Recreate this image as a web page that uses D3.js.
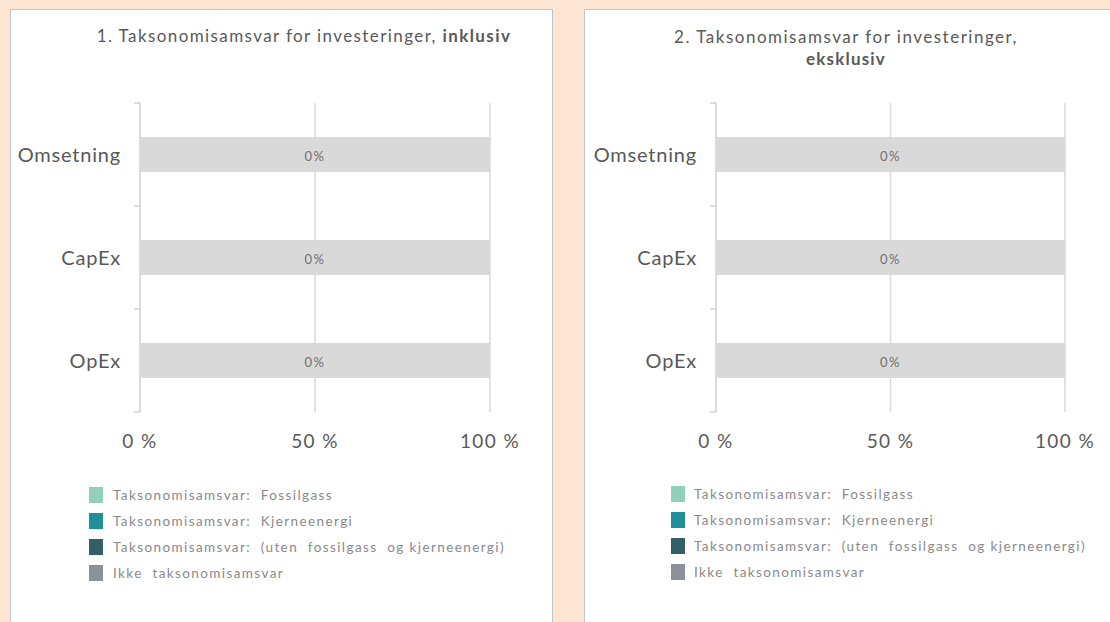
<!DOCTYPE html>
<html>
<head>
<meta charset="utf-8">
<script src="https://cdn.jsdelivr.net/npm/d3@7"></script>
<style>
  body { margin: 0; background: #fde5d3; }
  svg { display: block; font-family: Lato, "Open Sans", sans-serif; }
</style>
</head>
<body>
<svg id="chart" width="1110" height="622"></svg>
<script>
// data
const categories = ["Omsetning", "CapEx", "OpEx"];
const seriesKeys = ["fossilgass", "kjerneenergi", "uten", "ikke", "rest"];
const legendLabels = [
  "Taksonomisamsvar:  Fossilgass",
  "Taksonomisamsvar:  Kjerneenergi",
  "Taksonomisamsvar:  (uten  fossilgass  og kjerneenergi)",
  "Ikke  taksonomisamsvar"
];
// panel 1 (inklusiv) and panel 2 (eksklusiv) share the same numbers
const fossilgass = [0, 0, 0];
const kjerneenergi = [0, 0, 0];
const uten = [0, 0, 0];
const ikke = [0, 0, 0];
const rest = [100, 100, 100];   // grey filler bar, not in legend
const xTicks = [0, 50, 100];
const titleMain = ["1. Taksonomisamsvar for investeringer, ", "2. Taksonomisamsvar for investeringer,"];
const titleBold = ["inklusiv", "eksklusiv"];

const colors = {
  fossilgass: "#8fd1b9",
  kjerneenergi: "#1f909a",
  uten: "#335f66",
  ikke: "#8c9199",
  rest: "#d9d9d9"
};

const rows = categories.map(function(c, i) {
  return {cat: c, fossilgass: fossilgass[i], kjerneenergi: kjerneenergi[i],
          uten: uten[i], ikke: ikke[i], rest: rest[i]};
});

const svg = d3.select("#chart");

// layout of the two panels
const panels = [
  {left: 10, x0: 140, x1: 490, titleX: 304, twoLines: false, legX: 89, legY: 487, legGap: 10},
  {left: 584, x0: 716, x1: 1065, titleX: 846, twoLines: true, legX: 671, legY: 486, legGap: 9}
];

const stacked = d3.stack().keys(seriesKeys)(rows);

panels.forEach(function(p, pi) {
  const g = svg.append("g");

  // white card
  g.append("rect")
    .attr("x", p.left + 0.5).attr("y", 9.5)
    .attr("width", 542).attr("height", 650)
    .attr("fill", "#fff")
    .attr("stroke", "#c4c4c4");

  // title
  if (!p.twoLines) {
    const t = g.append("text")
      .attr("x", p.titleX).attr("y", 42)
      .attr("text-anchor", "middle")
      .style("font-size", "17px")
      .style("letter-spacing", "1.4px")
      .attr("fill", "#595959");
    t.append("tspan").text(titleMain[pi]);
    t.append("tspan").style("font-weight", "bold").text(titleBold[pi]);
  } else {
    g.append("text")
      .attr("x", p.titleX).attr("y", 43)
      .attr("text-anchor", "middle")
      .style("font-size", "17px")
      .style("letter-spacing", "1.5px")
      .attr("fill", "#595959")
      .text(titleMain[pi]);
    g.append("text")
      .attr("x", p.titleX).attr("y", 65)
      .attr("text-anchor", "middle")
      .style("font-size", "17px")
      .style("letter-spacing", "1.2px")
      .style("font-weight", "bold")
      .attr("fill", "#595959")
      .text(titleBold[pi]);
  }

  let x = d3.scaleLinear().domain([0, 100]).range([p.x0, p.x1]);
  let y = d3.scaleBand().domain(categories).range([103, 412]).padding(0);
  const barH = y.bandwidth() * 0.34;

  // vertical grid lines
  g.selectAll("line.grid").data(xTicks.slice(1)).enter()
    .append("line")
    .attr("class", "grid")
    .attr("x1", function(d) { return x(d); })
    .attr("x2", function(d) { return x(d); })
    .attr("y1", 103).attr("y2", 412)
    .attr("stroke", "#d9d9d9")
    .attr("stroke-width", 1.5);

  // category axis on the left
  const yAxis = g.append("g")
    .attr("transform", "translate(" + p.x0 + ",0)");
  yAxis.append("line")
    .attr("x1", 0).attr("x2", 0).attr("y1", 103).attr("y2", 412)
    .attr("stroke", "#d0d0d0").attr("stroke-width", 1.5);
  const edges = categories.map(function(c) { return y(c); }).concat([y.range()[1]]);
  yAxis.selectAll("line.tick").data(edges).enter()
    .append("line")
    .attr("class", "tick")
    .attr("x1", -6).attr("x2", 0)
    .attr("y1", function(d) { return d; })
    .attr("y2", function(d) { return d; })
    .attr("stroke", "#d0d0d0").attr("stroke-width", 1.5);
  yAxis.selectAll("text").data(categories).enter()
    .append("text")
    .attr("x", -19)
    .attr("y", function(d) { return y(d) + y.bandwidth() / 2 + 7; })
    .attr("text-anchor", "end")
    .style("font-size", "20px")
    .style("letter-spacing", "0.8px")
    .attr("fill", "#595959")
    .text(function(d) { return d; });

  // stacked bars
  stacked.forEach(function(s) {
    g.selectAll("rect.s-" + s.key).data(s).enter()
      .append("rect")
      .attr("class", "s-" + s.key)
      .attr("x", function(d) { return x(d[0]); })
      .attr("width", function(d) { return x(d[1]) - x(d[0]); })
      .attr("y", function(d) { return y(d.data.cat) + (y.bandwidth() - barH) / 2; })
      .attr("height", barH)
      .attr("fill", colors[s.key]);
  });

  // aligned share label in the middle of each bar
  g.selectAll("text.val").data(rows).enter()
    .append("text")
    .attr("class", "val")
    .attr("x", x(50))
    .attr("y", function(d) { return y(d.cat) + y.bandwidth() / 2 + 6; })
    .attr("text-anchor", "middle")
    .style("font-size", "13px")
    .style("letter-spacing", "1.6px")
    .attr("fill", "#6f6f6f")
    .text(function(d) { return (d.fossilgass + d.kjerneenergi + d.uten) + "%"; });

  // x axis labels
  g.selectAll("text.xt").data(xTicks).enter()
    .append("text")
    .attr("class", "xt")
    .attr("x", function(d) { return x(d); })
    .attr("y", 448)
    .attr("text-anchor", "middle")
    .style("font-size", "19px")
    .style("letter-spacing", "1.4px")
    .attr("fill", "#595959")
    .text(function(d) { return d + " %"; });

  // legend
  const leg = g.selectAll("g.leg").data(legendLabels).enter()
    .append("g")
    .attr("class", "leg")
    .attr("transform", function(d, i) { return "translate(" + p.legX + "," + (p.legY + i * 26) + ")"; });
  leg.append("rect")
    .attr("width", 14).attr("height", 16)
    .attr("fill", function(d, i) { return colors[seriesKeys[i]]; });
  leg.append("text")
    .attr("x", 14 + p.legGap).attr("y", 13)
    .style("font-size", "13.5px")
    .style("letter-spacing", "1.4px")
    .style("white-space", "pre")
    .attr("fill", "#8a8a8a")
    .text(function(d) { return d; });
});
</script>
</body>
</html>
